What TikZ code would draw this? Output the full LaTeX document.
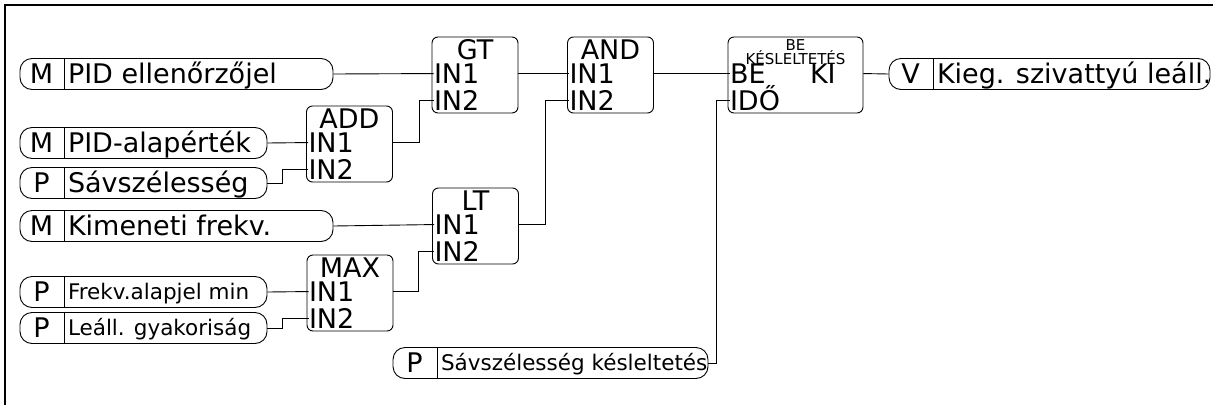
\documentclass[tikz,border=0pt]{standalone}
\usepackage{fontspec}
\setmainfont{DejaVu Sans}
\usetikzlibrary{positioning}

% signal pill: name, centre, width, letter, text style, text
\newcommand{\sigpill}[6]{%
  \node[pill, minimum width=#3] (#1) at (#2) {};
  \draw ([xshift=45]#1.north west) -- ([xshift=45]#1.south west);
  \node[tag] at ([xshift=22]#1.west) {#4};
  \node[#5] at ([xshift=48]#1.west) {#6};
}

\begin{document}
\begin{tikzpicture}[x=1pt, y=-1pt, line width=0.9pt,
    pill/.style={draw, rounded corners=12pt, minimum height=31pt, inner sep=0pt},
    blk/.style={draw, rounded corners=6pt, minimum width=86pt, minimum height=76pt, inner sep=0pt},
    port/.style={anchor=west, inner sep=0pt, font=\fontsize{27}{30}\selectfont, text height=19pt, text depth=0pt},
    head/.style={inner sep=0pt, font=\fontsize{27}{30}\selectfont, text height=19pt, text depth=0pt},
    tag/.style={inner sep=0pt, font=\fontsize{27}{30}\selectfont, text height=19pt, text depth=0pt},
    big/.style={anchor=west, inner sep=0pt, font=\fontsize{27}{30}\selectfont, text height=19pt, text depth=0pt},
    small/.style={anchor=west, inner sep=0pt, font=\fontsize{21.5}{24}\selectfont, text height=15pt, text depth=0pt}]
    \useasboundingbox (0,0) rectangle (1213,405);
    \draw[line width=1.5pt] (5,405) -- (5,5) -- (1213,5);

    % inputs
    \sigpill{pidctl}{176.5,74}{313}{M}{big}{PID ellenőrzőjel}
    \sigpill{pidset}{143.5,143}{247}{M}{big}{PID-alapérték}
    \sigpill{band}{143.5,183}{247}{P}{big}{Sávszélesség}
    \sigpill{outfreq}{176.5,226}{313}{M}{big}{Kimeneti frekv.}
    \sigpill{fmin}{143.5,292}{247}{P}{small}{Frekv.alapjel min}
    \sigpill{stopfreq}{143.5,328}{247}{P}{small}{Leáll. gyakoriság}
    \sigpill{banddelay}{550.5,363}{315}{P}{small}{Sávszélesség késleltetés}
    % output
    \sigpill{pumpoff}{1049.5,74}{321}{V}{big}{Kieg. szivattyú leáll.}

    % blocks
    \node[blk] (add) at (349.5,144) {};
    \node[head] at ([yshift=-13]add.north) {ADD};
    \node[port] (add1) at ([xshift=2,yshift=-37]add.north west) {IN1};
    \node[port] (add2) at ([xshift=2,yshift=-64]add.north west) {IN2};

    \node[blk] (max) at (350,293) {};
    \node[head] at ([yshift=-13]max.north) {MAX};
    \node[port] (max1) at ([xshift=2,yshift=-37]max.north west) {IN1};
    \node[port] (max2) at ([xshift=2,yshift=-64]max.north west) {IN2};

    \node[blk] (gt) at (475,75) {};
    \node[head] at ([yshift=-13]gt.north) {GT};
    \node[port] (gt1) at ([xshift=2,yshift=-37]gt.north west) {IN1};
    \node[port] (gt2) at ([xshift=2,yshift=-64]gt.north west) {IN2};

    \node[blk] (lt) at (475.5,226) {};
    \node[head] at ([yshift=-13]lt.north) {LT};
    \node[port] (lt1) at ([xshift=2,yshift=-37]lt.north west) {IN1};
    \node[port] (lt2) at ([xshift=2,yshift=-64]lt.north west) {IN2};

    \node[blk] (and) at (610.5,75) {};
    \node[head] at ([yshift=-13]and.north) {AND};
    \node[port] (and1) at ([xshift=2,yshift=-37]and.north west) {IN1};
    \node[port] (and2) at ([xshift=2,yshift=-64]and.north west) {IN2};

    \node[blk, minimum width=135] (dly) at (795.5,75) {};
    \node[inner sep=0pt, font=\fontsize{15}{16}\selectfont] at ([yshift=-8]dly.north) {BE};
    \node[inner sep=0pt, font=\fontsize{15}{16}\selectfont] at ([yshift=-21]dly.north) {KÉSLELTETÉS};
    \node[port] (dly1) at ([xshift=2,yshift=-37]dly.north west) {BE};
    \node[port] (dly2) at ([xshift=2,yshift=-64]dly.north west) {IDŐ};
    \node[port] (dlyout) at ([xshift=80]dly1.west) {KI};

    % wires
    \draw (pidctl.east) -- (gt1.west);
    \draw (pidset.east) -- (add1.west);
    \draw (band.east) -- ++(15,0) |- (add2.west);
    \draw (add.east |- add1) -- ++(26,0) |- (gt2.west);
    \draw (outfreq.east) -- (lt1.west);
    \draw (fmin.east) -- (max1.west);
    \draw (stopfreq.east) -- ++(15,0) |- (max2.west);
    \draw (max.east |- max1) -- ++(25,0) |- (lt2.west);
    \draw (gt.east |- gt1) -- (and1.west);
    \draw (lt.east |- lt1) -- ++(26,0) |- (and2.west);
    \draw (and.east |- and1) -- (dly1.west);
    \draw (banddelay.east) -- ++(8,0) |- (dly2.west);
    \draw (dly.east |- dly1) -- (pumpoff.west);
\end{tikzpicture}
\end{document}
